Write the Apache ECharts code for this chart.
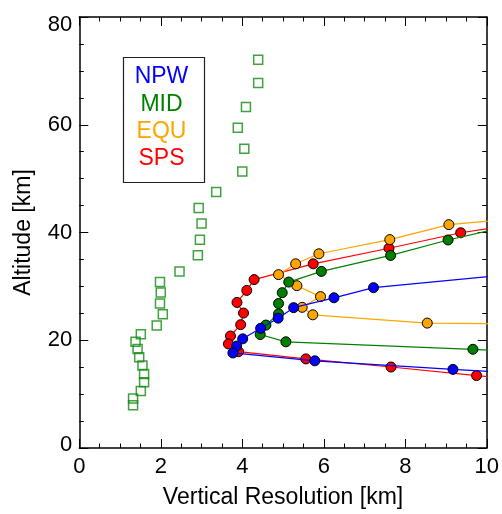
<!DOCTYPE html>
<html>
<head>
<meta charset="utf-8">
<script src="https://cdn.jsdelivr.net/npm/echarts@6/dist/echarts.min.js"></script>
<style>
html,body{margin:0;padding:0;background:#fff;}
#chart{width:502px;height:514px;}
</style>
</head>
<body>
<div id="chart"></div>
<script>
// Tick settings
const xTicks = [0, 2, 4, 6, 8, 10];
const yTicks = [0, 20, 40, 60, 80];

// Series names (legend)
const seriesNames = ['NPW', 'MID', 'EQU', 'SPS'];

// NPW (blue)
const npwRes = [11, 7.22, 6.25, 5.26, 4.88, 4.45, 4.01, 3.86, 3.77, 5.78, 9.17, 11];
const npwAlt = [32.5, 29.76, 27.88, 26.05, 24.10, 22.21, 20.26, 18.92, 17.64, 16.18, 14.59, 13.77];

// MID (green)
const midRes = [11, 9.05, 7.64, 5.94, 5.14, 4.98, 4.89, 4.89, 4.58, 4.44, 5.07, 9.66, 11];
const midAlt = [42.0, 38.61, 35.74, 32.78, 30.80, 28.83, 26.82, 24.90, 22.82, 21.06, 19.71, 18.32, 17.8];

// EQU (orange)
const equRes = [11, 9.07, 7.62, 5.88, 5.31, 4.89, 5.34, 5.92, 5.47, 5.73, 8.54, 11];
const equAlt = [42.75, 41.46, 38.68, 36.05, 34.19, 32.18, 30.13, 28.10, 26.11, 24.72, 23.18, 23.0];

// SPS (red)
const spsRes = [11, 9.36, 7.60, 5.74, 4.29, 4.11, 3.87, 4.03, 3.96, 3.71, 3.66, 3.91, 5.56, 7.65, 9.75, 11];
const spsAlt = [41.8, 39.95, 37.08, 34.19, 31.26, 29.25, 27.02, 25.05, 22.89, 20.79, 19.32, 17.88, 16.54, 15.03, 13.44, 12.5];

// Open green squares
const sqRes = [4.39, 4.39, 4.09, 3.89, 4.05, 4.00, 3.36, 2.93, 3.00, 2.96, 2.91, 2.46, 1.98, 2.00, 1.98, 2.05, 1.90, 1.51, 1.38, 1.43, 1.47, 1.55, 1.59, 1.59, 1.51, 1.32, 1.32];
const sqAlt = [72.07, 67.73, 63.29, 59.45, 55.54, 51.33, 47.50, 44.57, 41.65, 38.67, 35.80, 32.76, 30.80, 28.85, 26.84, 24.83, 22.76, 21.12, 19.71, 18.37, 16.86, 15.32, 13.75, 12.21, 10.57, 9.18, 7.95];

const colors = {NPW: '#0000FF', MID: '#008000', EQU: '#FFA500', SPS: '#FF0000'};
const FONT = 'Liberation Sans, Arial, sans-serif';

function zip(a, b) { return a.map((v, i) => [v, b[i]]); }

const chart = echarts.init(document.getElementById('chart'), null, {renderer: 'canvas'});

function xAxisDef(pos, showLabel, name) {
  return {
    type: 'value', position: pos,
    min: xTicks[0], max: xTicks[xTicks.length - 1], interval: xTicks[1] - xTicks[0],
    name: name, nameLocation: 'middle', nameGap: 38,
    nameTextStyle: {fontFamily: FONT, fontSize: 23, color: '#000'},
    axisLine: {show: true, onZero: false, lineStyle: {color: '#000', width: 1.5}},
    axisTick: {show: true, inside: true, length: 9, lineStyle: {color: '#000', width: 1}},
    minorTick: {show: true, splitNumber: 4, length: 4.5, lineStyle: {color: '#000', width: 1}},
    splitLine: {show: false}, minorSplitLine: {show: false},
    axisLabel: {show: showLabel, margin: 8, fontFamily: FONT, fontSize: 22, color: '#000'}
  };
}
function yAxisDef(pos, showLabel, name) {
  const lo = yTicks[0], hi = yTicks[yTicks.length - 1];
  return {
    type: 'value', position: pos,
    min: lo, max: hi, interval: yTicks[1] - yTicks[0],
    name: name, nameLocation: 'middle', nameGap: 44, nameRotate: 90,
    nameTextStyle: {fontFamily: FONT, fontSize: 23, color: '#000'},
    axisLine: {show: true, onZero: false, lineStyle: {color: '#000', width: 1.5}},
    axisTick: {show: true, inside: true, length: 9, lineStyle: {color: '#000', width: 1}},
    minorTick: {show: true, splitNumber: 4, length: 4.5, lineStyle: {color: '#000', width: 1}},
    splitLine: {show: false}, minorSplitLine: {show: false},
    axisLabel: {show: showLabel, margin: 7, fontFamily: FONT, fontSize: 22, color: '#000',
      formatter: v => v === lo ? '{lo|' + v + '}' : (v === hi ? '{hi|' + v + '}' : String(v)),
      rich: {
        lo: {fontFamily: FONT, fontSize: 22, color: '#000', padding: [0, 0, 6, 0]},
        hi: {fontFamily: FONT, fontSize: 22, color: '#000', padding: [16, 0, 0, 0]}
      }}
  };
}

function lineSeries(name, xs, ys, z) {
  return {
    name: name, type: 'line', data: zip(xs, ys), z: z,
    xAxisIndex: 0, yAxisIndex: 0, clip: true,
    symbol: 'circle', symbolSize: 10, showAllSymbol: true,
    lineStyle: {color: colors[name], width: 1.2},
    itemStyle: {color: colors[name], borderColor: '#000', borderWidth: 1},
    animation: false
  };
}

const option = {
  animation: false,
  backgroundColor: '#fff',
  grid: {left: 79.3, right: 14.7, top: 17, bottom: 59.5, containLabel: false},
  xAxis: [xAxisDef('bottom', true, 'Vertical Resolution [km]'), xAxisDef('top', false, '')],
  yAxis: [yAxisDef('left', true, 'Altitude [km]'), yAxisDef('right', false, '')],
  series: [
    {
      name: 'squares', type: 'scatter', data: zip(sqRes, sqAlt),
      symbol: 'rect', symbolSize: 9, z: 2,
      itemStyle: {color: 'rgba(255,255,255,0)', borderColor: '#108a10', borderWidth: 1.5}
    },
    lineSeries('SPS', spsRes, spsAlt, 3),
    lineSeries('EQU', equRes, equAlt, 4),
    lineSeries('MID', midRes, midAlt, 5),
    lineSeries('NPW', npwRes, npwAlt, 6)
  ],
  graphic: [
    {type: 'rect', left: 121, top: 55, shape: {width: 81, height: 125},
     style: {fill: 'none', stroke: '#222', lineWidth: 1.2}, z: 10}
  ].concat(seriesNames.map((n, i) => ({
    type: 'text', x: 161.5, y: 77 + i * 27.2, z: 11,
    style: {text: n, fill: colors[n], font: '23px ' + FONT, textAlign: 'center', textVerticalAlign: 'middle'}
  })))
};
chart.setOption(option);
</script>
</body>
</html>
